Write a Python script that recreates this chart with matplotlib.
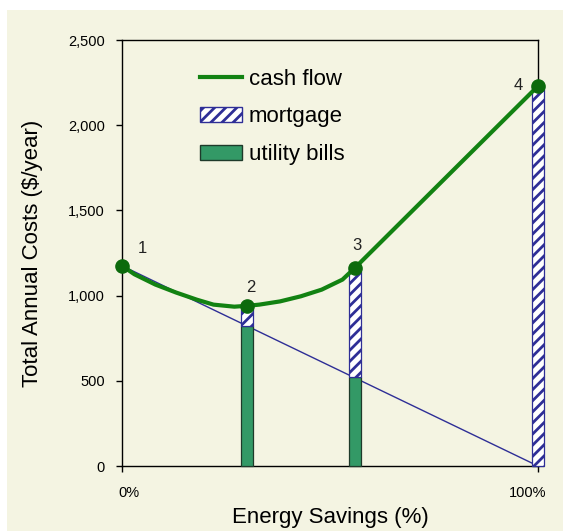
import matplotlib
matplotlib.use("Agg")
import matplotlib.pyplot as plt
import matplotlib.transforms as mtransforms
from matplotlib.patches import Rectangle, Patch
from matplotlib.lines import Line2D
from matplotlib.ticker import FuncFormatter

plt.rcParams['font.family'] = ['Liberation Sans', 'DejaVu Sans']
plt.rcParams['hatch.linewidth'] = 2.0

# ---- data ----
curve_x = [0, 3, 8, 13, 18, 22, 27, 30, 33, 38, 43, 48, 53, 56, 100]
curve_y = [1175, 1125, 1065, 1018, 976, 947, 935, 940, 947, 966, 996, 1035, 1094, 1163, 2230]
point_x = [0, 30, 56, 100]
point_y = [1175, 940, 1163, 2230]
point_labels = ["1", "2", "3", "4"]
bar_x = [30, 56, 100]
utility = [823, 522, 0]
mortgage = [117, 641, 2230]
utility_line_x = [0, 100]
utility_line_y = [1175, 0]
xtick_vals = [0, 100]
xtick_labels = ["0%", "100%"]
ytick_vals = [0, 500, 1000, 1500, 2000, 2500]

CREAM = '#F4F4E2'
GREEN = '#128212'
DKGREEN = '#0C6A0C'
BARGREEN = '#339966'
NAVY = '#2E2E96'

W, H = 563, 531
fig = plt.figure(figsize=(W / 100, H / 100), dpi=100, facecolor='white')
fig.patches.append(Rectangle((7 / W, 0), 1 - 7 / W, 1 - 10 / H, transform=fig.transFigure,
                             facecolor=CREAM, edgecolor='none', zorder=-10))

ax = fig.add_axes([122 / W, 1 - 466 / H, (538 - 122) / W, (466 - 40) / H])
ax.set_facecolor(CREAM)
ax.set_xlim(0, 100)
ax.set_ylim(0, 2500)

# utility trend line
ax.plot(utility_line_x, utility_line_y, color=NAVY, lw=1.0, zorder=2)

bw = 3.0
ax.bar(bar_x, utility, width=bw, color=BARGREEN, edgecolor='#1E3A2A', lw=0.9, zorder=3, clip_on=False)
ax.bar(bar_x, mortgage, width=bw, bottom=utility, color='white', edgecolor=NAVY,
       hatch='///', lw=0.9, zorder=3, clip_on=False)

ax.plot(curve_x, curve_y, color=GREEN, lw=3.0, zorder=4, solid_capstyle='round',
        solid_joinstyle='round', clip_on=False)
ax.plot(point_x, point_y, 'o', color=DKGREEN, ms=9.5, zorder=5, clip_on=False)

label_pos = [(5, 1275), (31, 1050), (56.5, 1295), (95.3, 2235)]
for lab, (lx, ly) in zip(point_labels, label_pos):
    ax.text(lx, ly, lab, fontsize=12, ha='center', va='center', color='#222222', zorder=6)

ax.set_xticks(xtick_vals)
ax.set_xticklabels(xtick_labels)
ax.set_yticks(ytick_vals)
ax.yaxis.set_major_formatter(FuncFormatter(lambda v, p: f"{int(v):,}"))
ax.tick_params(axis='both', direction='out', length=4.5, width=1, labelsize=10.5, colors='black')
ax.tick_params(axis='y', pad=8)
ax.tick_params(axis='x', pad=10)
for s in ax.spines.values():
    s.set_color('black')
    s.set_linewidth(1.0)

# Excel-style offset of end tick labels
shifts = [7, -10]
for lbl, dx in zip(ax.get_xticklabels(), shifts):
    lbl.set_transform(lbl.get_transform() + mtransforms.ScaledTranslation(dx / 100, 0, fig.dpi_scale_trans))

ax.set_xlabel('Energy Savings (%)', fontsize=16, labelpad=5)
ax.set_ylabel('Total Annual Costs ($/year)', fontsize=16, labelpad=18)

handles = [Line2D([0], [0], color=GREEN, lw=3),
           Patch(facecolor='white', edgecolor=NAVY, hatch='///', lw=1.0),
           Patch(facecolor=BARGREEN, edgecolor='#1E3A2A', lw=1.0)]
leg = ax.legend(handles, ['cash flow', 'mortgage', 'utility bills'], loc='upper left',
                bbox_to_anchor=(200 / W, 1 - 69 / H), bbox_transform=fig.transFigure,
                frameon=False, fontsize=16, handlelength=1.9, handleheight=0.65,
                handletextpad=0.3, labelspacing=0.74, borderpad=0, borderaxespad=0)

fig.savefig('out.png', dpi=100, facecolor=fig.get_facecolor())
